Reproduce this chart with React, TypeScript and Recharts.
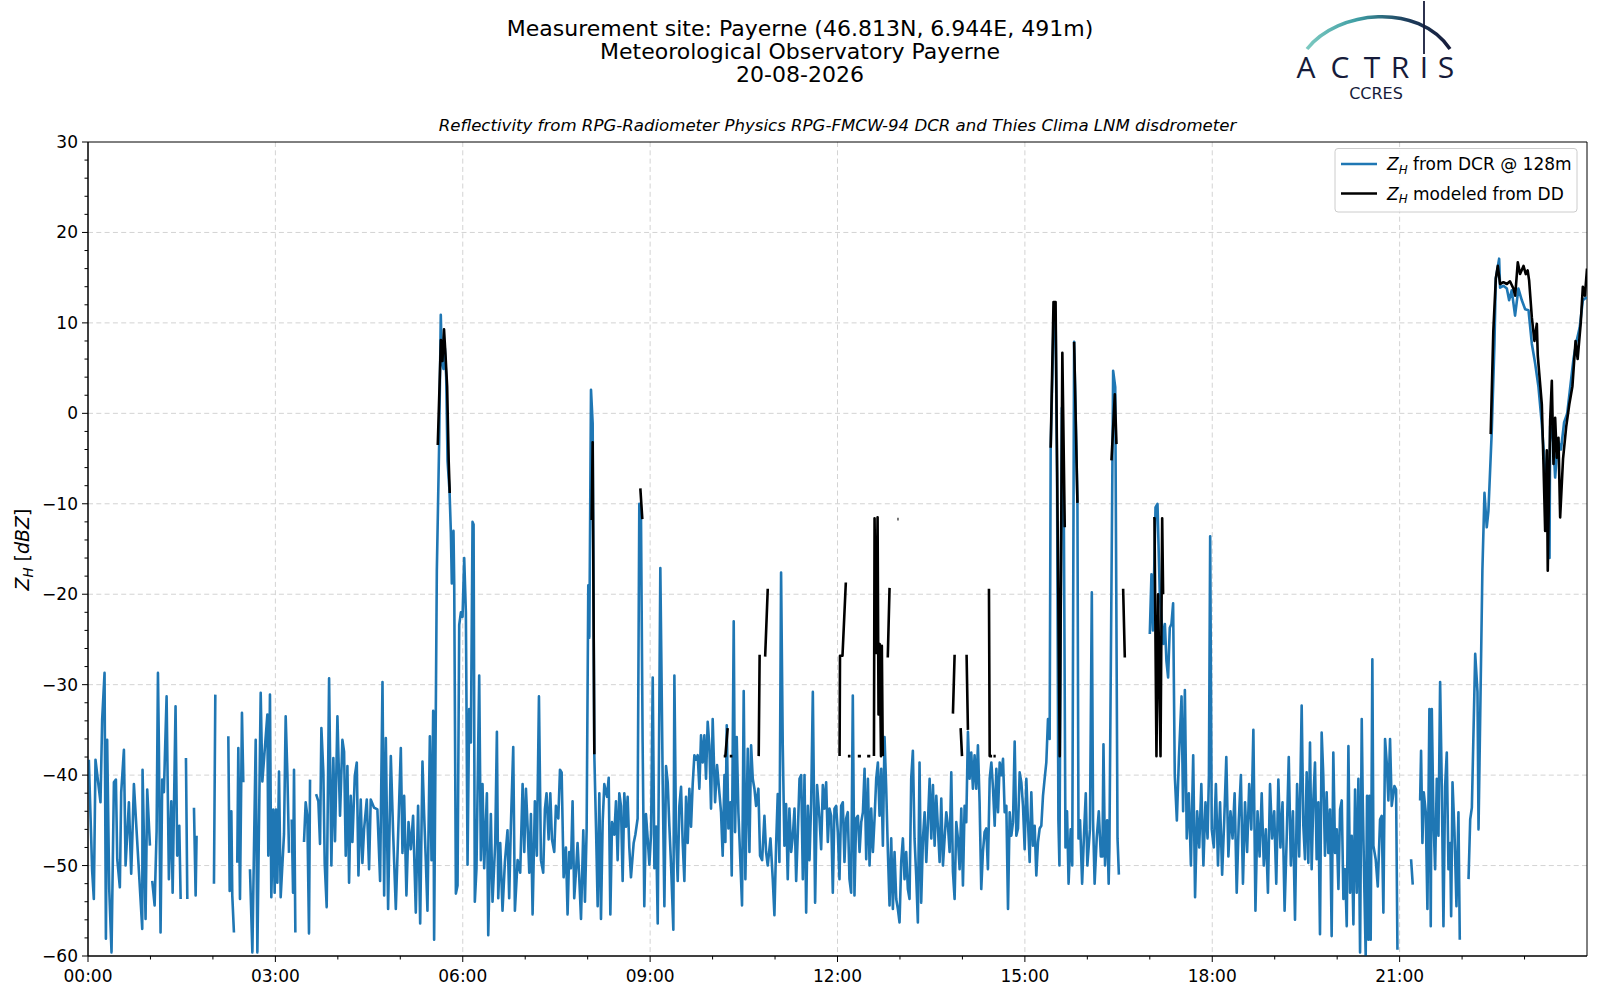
import React from 'react'
import { LineChart, Line, XAxis, YAxis, CartesianGrid, ReferenceArea } from 'recharts'

const FONT = '"DejaVu Sans", Verdana, sans-serif'
const BLUE = '#1f77b4'
const NAVY = '#161b3a'

// Z_H from the cloud radar: [minute of day, dBZ], null = no data
const BLUE_ZH: [number, number | null][] = [
  [0.8, -38.3], [4, -50.6], [5.6, -53.7], [7.2, -38.3], [12, -43], [13.6, -33.9], [15.9, -28.7], [17.2, -58.1],
  [18.4, -36.1], [20.4, -52.6], [22.6, -59.6], [24.9, -40.8], [26.8, -40.5], [28.1, -49.3], [30.6, -52.4],
  [31.9, -41.9], [34.5, -37.2], [36.1, -50], [39.3, -43], [41.5, -50.9], [42.5, -47.3], [44.1, -41], [52.1, -57],
  [52.4, -39.4], [55.3, -55.9], [56.9, -41.6], [59.5, -47.8], [60.5, null], [61.7, -51.7], [64, -54.4],
  [65.9, -46.2], [67.2, -28.7], [68.1, -36.8], [69.7, -57.4], [71.3, -40.5], [72.9, -41.9], [75.5, -31.3],
  [77.7, -51.5], [80, -42.9], [81.3, -53], [84.1, -32.4], [85.7, -48.9], [87.7, -45.6], [89, -53.7], [90.5, null],
  [94.1, -38.1], [95.4, -53.7], [97, null], [101.8, -43.6], [103.4, -53.3], [104.3, -46.7], [106, null],
  [121, -52], [122.3, -31.1], [124, null], [134.8, -35.7], [136.1, -52.8], [137.7, -44], [138.6, -53.3],
  [140.2, -57.4], [141.5, null], [143.4, -49.7], [144.4, -37], [146, -53.7], [147.9, -33.1], [149.2, -40.8],
  [151, null], [155.6, -50.4], [157.9, -59.6], [161.1, -36.1], [162.7, -59.6], [165.9, -30.9], [167.5, -40.7],
  [172.3, -33.3], [173.2, -48.9], [174.8, -31.1], [176.1, -53.5], [178, -43.8], [179.3, -53], [180.6, -43.8],
  [181.9, -51.9], [183.5, -39.6], [185.1, -53.5], [188.3, -46.5], [189.9, -33.5], [191.5, -39.7], [193.1, -48.6],
  [194.5, null], [195.7, -44.9], [197, -53], [197.9, -39.4], [199.2, -57.4], [201, null], [207.5, -47.4],
  [209.1, -43], [210.7, -44.5], [212.3, -57.5], [213.3, -40.5], [215, null], [219.1, -42.1], [221.3, -42.9],
  [222.9, -47.6], [224.2, -34.8], [226.1, -39.7], [227.4, -49.8], [229.3, -54.6], [231.6, -29.3], [233.8, -50],
  [235.7, -38.1], [237.3, -47.3], [239.6, -33.5], [242.1, -44.5], [244.4, -36.1], [246, -37.4], [247.6, -48.9],
  [249.2, -39], [250.8, -51.9], [252.4, -42.3], [254, -47.4], [256.3, -40.1], [258.2, -38.6], [259.8, -51.1],
  [262, -42.7], [263.6, -49.7], [265.2, -46], [267.8, -42.7], [270, -50.4], [271.6, -42.7], [274.8, -43.6],
  [278, -43.8], [280.6, -51.7], [282.9, -29.7], [284.5, -53.3], [286.1, -35.9], [288.3, -54.8], [290.9, -37.9],
  [293.1, -46.3], [295.7, -54.8], [297.9, -46.7], [300.5, -37], [302.1, -48.6], [303.7, -42.3], [305.9, -53.3],
  [307.9, -45.2], [310.1, -48.2], [312.3, -44.5], [314.9, -55.2], [317.1, -43.4], [319.1, -56.4],
  [321.3, -38.5], [322.9, -44.3], [324.5, -49.4], [326.1, -55], [328.4, -35.7], [330, -49.4], [331.6, -32.9],
  [332.5, -58.2], [335.1, -17.4], [337.3, -3.5], [338.9, 10.9], [339.9, 5.8], [341.5, 4.9], [342.8, 7.2],
  [344.1, 4], [345.4, -5.3], [347.3, -8.6], [348.6, -13.2], [349.5, -18.8], [351.1, -13], [351.8, -18.8],
  [353.4, -53.1], [355, -52.2], [356.6, -23.4], [358.2, -22], [359.8, -22.5], [361.4, -16], [363, -22],
  [364.6, -49.9], [366.2, -32.7], [367.8, -36.4], [369.4, -12], [370.4, -12.3], [371.6, -54], [373.2, -50.3],
  [375.8, -29], [377.4, -49.4], [379, -41], [380.6, -50.3], [383.2, -42], [384.5, -57.7], [387, -44.3],
  [388.6, -54], [391.2, -47.5], [392.8, -35.2], [394.1, -53.6], [396, -47.5], [398.2, -55], [400.5, -49.6],
  [403, -46.1], [404.6, -53.6], [406.2, -45.7], [408.5, -36.9], [410.1, -55], [412.7, -49.4], [415.2, -50.8],
  [417.5, -41], [419.1, -48.5], [420.7, -41.5], [422.3, -45.7], [423.9, -50.8], [425.5, -44.3], [427.1, -55.4],
  [429.3, -42.9], [431.2, -48.9], [433.2, -31.3], [435.1, -49.4], [437.3, -50.8], [438.9, -43.8], [440.5, -42],
  [442.5, -47.1], [444.1, -42], [445.7, -47.1], [447.9, -48.5], [449.5, -43.4], [451.8, -44.8], [453.4, -39.4],
  [455, -39.7], [456.9, -51.3], [459.1, -48], [460.7, -55.4], [462.3, -48.5], [463.9, -50.3], [465.5, -42.9],
  [467.1, -53.6], [468.7, -50.8], [470.3, -47.5], [471.9, -51.3], [473.6, -55.9], [475.8, -46.1], [477.4, -54],
  [479, -46.1], [480.6, -19], [481.6, -24.8], [483.2, 2.6], [484.8, -1.1], [486.4, -37.8], [488, -45.7],
  [489.6, -54.5], [491.2, -42], [492.8, -55.9], [494.4, -45.2], [496, -41], [498.6, -42.4], [500.2, -40.3],
  [501.8, -55.4], [503.4, -45.2], [505.6, -46.6], [507.2, -42.9], [508.8, -49.4], [510.4, -42], [512, -43.4],
  [513.6, -51.7], [515.2, -42], [516.8, -45.7], [518.4, -42.4], [520, -48], [521.6, -51.3], [524.2, -47.5],
  [525.8, -46.6], [528, -44.8], [529.6, -10], [531.2, -10.9], [532.8, -36.4], [534.4, -54.5], [536, -44.3],
  [537.7, -47.1], [539.3, -49.9], [540.9, -46.5], [542.5, -29.2], [544.1, -50.3], [545.7, -45.7], [547.3, -56.4],
  [549.8, -17.1], [552.1, -41], [553.7, -54.5], [555.3, -39], [556.9, -40.8], [558.5, -45.7], [560.1, -49.9],
  [562.3, -57.1], [563.3, -29], [564.9, -46.6], [566.5, -51.7], [568.1, -43.4], [569.7, -41.3], [571.3, -47.5],
  [572.9, -51.7], [574.5, -42.4], [576.1, -47.5], [577.7, -41.5], [579.3, -45.7], [580.9, -41], [582.5, -37.8],
  [584.1, -38.3], [585.7, -37.8], [587.3, -41.5],
  [588.9, -35.6], [590.5, -38.6], [592.1, -35.6], [593.7, -40.4], [595.3, -34.1], [596.9, -36.7], [598.5, -43.7],
  [600.1, -33.8], [602.4, -43], [604.3, -38.9], [606.5, -41.9], [608.1, -44.1], [609.7, -48.9], [611.4, -40],
  [612.3, -47.4], [613.6, -34.5], [615.2, -45.9], [617.1, -43], [618.4, -51.1], [620.3, -23], [621.6, -46.3],
  [623.2, -35.8], [624.8, -44.1], [626.7, -49.6], [628.3, -54.4], [629.9, -30.7], [631.5, -51.5], [633.8, -37.1],
  [635.4, -48.5], [637, -36.7], [638.6, -40.4], [640.2, -41.5], [641.8, -43.4], [644, -41.5], [645.6, -48.9],
  [647.6, -49.4], [649.8, -44.5], [651.4, -48.5], [653, -50], [655.6, -47], [657.8, -51.5], [659.4, -55.5],
  [661, -47.8], [662.6, -42.1], [664.2, -49.6], [665.8, -17.6], [667.4, -36.7], [669, -47.8], [670.6, -43.2],
  [672.2, -51.5], [673.8, -43.7], [675.5, -48.5], [677.1, -46.7], [678.7, -43.7], [680.3, -51.7], [681.9, -46.3],
  [683.5, -40.4], [685.1, -40], [686.7, -51.5], [688.3, -40], [689.9, -55.2], [691.5, -43.4], [693.1, -49.4],
  [694.7, -43], [696.3, -30.8], [698.5, -54.1], [700.4, -41.1], [702.7, -44.8], [704.3, -48.2], [705.9, -41.1],
  [707.5, -43.7], [709.1, -40.8], [710.7, -47.4], [712.3, -43.7], [713.9, -44.5], [715.5, -53], [717.1, -43.7],
  [718.7, -43.4], [720.3, -46.3], [721.9, -51.5], [723.5, -43.4], [725.1, -43], [726.7, -49.6], [728.3, -44.8],
  [729.9, -44.1], [731.5, -51.5], [733.1, -53], [734.7, -31.2], [736.3, -53.3], [737.9, -44.8], [739.6, -44.5],
  [741.2, -48.5], [742.8, -45.2], [744.4, -44.1], [746, -39.3], [747.6, -49.3], [749.2, -40.4], [750.8, -50],
  [752.4, -43.7], [754, -48.5], [755.6, -44.8], [757.2, -40.4], [758.8, -38.6], [760.4, -44.5], [762, -39.3],
  [763.6, -47.8], [765.2, -35.8], [766.8, -41.5], [768.4, -48.5], [770, -54.4], [771.6, -47], [773.2, -54.8],
  [774.8, -48.5], [776.4, -53.7], [778, -54.8], [779.6, -56.3], [781.2, -49.6], [782.8, -47], [784.4, -51.5],
  [786, -48.5], [787.6, -52.6], [789.2, -53.7], [790.8, -40.4], [792.4, -37.3], [794, -47], [795.6, -51.1],
  [797.2, -56.3], [798.8, -38.6], [800.4, -54.1], [802.1, -47], [803.7, -44.1], [805.3, -49.6], [806.9, -45.2],
  [808.5, -40.4], [810.1, -47], [811.7, -41.1], [813.3, -47.8], [814.9, -42.3], [816.5, -45.9], [818.1, -49.6],
  [819.7, -42.6], [821.3, -50], [822.9, -47], [824.5, -44.1], [826.1, -45.6], [827.7, -48.5], [829.3, -39.7],
  [830.9, -50.7], [832.5, -53.7], [834.1, -45.2], [835.7, -47], [837.3, -50.4], [838.9, -43.7], [840.5, -52.2],
  [842.1, -43.4], [843.7, -45.2], [845.3, -35.2], [846.9, -40.4], [848.5, -37.5], [850.1, -41.5], [851.7, -37.8],
  [853.3, -41.5], [854.9, -36.7], [856.5, -43], [858.1, -52.6], [859.7, -48.5], [861.3, -46.3], [862.9, -45.9],
  [864.5, -50.4], [866.2, -40.4], [867.8, -38.6], [869.4, -41.5], [871, -45.6], [872.6, -39.3], [874.2, -44.1],
  [875.8, -38.6], [877.4, -40], [879, -38.2], [880.6, -44.1], [882.2, -43.4], [883.8, -54.8], [885.4, -44.1],
  [887, -46.7], [888.6, -45.2], [890.2, -36.3], [891.8, -46.7], [893.4, -45.9], [895, -39.7], [896.6, -40.8],
  [898.2, -43.4], [899.8, -48.2], [901.4, -40.4], [903, -45.2], [904.6, -49.6], [906.2, -41.9], [907.8, -47.8],
  [909.4, -45.6], [911, -51.1], [912.6, -47.4], [914.2, -45.9], [915.8, -45.6], [917.4, -42.3], [919, -40.4],
  [920.6, -38.6], [922.2, -33.8], [923.8, -36], [924.8, -3.8], [927.5, 9.5], [929.5, 10.5], [930.9, -6.5],
  [932.2, -45], [933.2, -50], [935.5, 0.6], [937.5, -12.6], [939, -48], [940.5, -44], [942, -52], [944, -46],
  [945.5, -50], [947.3, 7.9], [950.5, -9.9], [951.5, -47], [953, -45], [955, -52], [957, -46], [958.5, -42],
  [960, -50], [962.5, -46], [964.3, -19.8], [965.5, -45], [967, -52], [969, -47], [971, -44], [973, -49],
  [974.5, -49], [975.5, -36.6], [977, -50], [979, -45], [980.5, -52], [981.2, -48], [984.8, 4.7], [986.8, 2.9],
  [989, -47], [990.3, -51], [991, null],
  [1020, -24.4], [1021.6, -17.8], [1023, -24], [1025.5, -10.4], [1027.4, -10], [1029.6, -20], [1033, -25.5],
  [1034.5, -23.3], [1036, -27.4], [1037.6, -29.2], [1039.2, -23.7], [1040.8, -23.3], [1042.4, -21], [1044, -40],
  [1046, -45], [1048, -38], [1050.5, -31.3], [1052, -44], [1053.7, -30.6], [1055.5, -47], [1057.5, -42],
  [1059.5, -50], [1061.7, -37.8], [1063.5, -53.5], [1065.5, -44], [1067.5, -48], [1069.5, -41], [1071.5, -50],
  [1073.5, -43], [1075.5, -47], [1076.8, -40], [1078, -13.6], [1079.5, -46], [1081.5, -48], [1083.5, -41],
  [1085.5, -50], [1087.5, -43], [1089.5, -51], [1091.5, -45], [1093.5, -38], [1095.5, -49], [1097.5, -44],
  [1099.5, -47], [1101.5, -42], [1103.5, -53], [1105.5, -45], [1107.5, -40], [1109.5, -52], [1111.5, -43],
  [1113.5, -48.5], [1115.5, -41], [1117.5, -46], [1119.5, -35], [1121.5, -55], [1123.5, -44], [1125.5, -49],
  [1127.5, -42], [1129.5, -50], [1131.5, -46], [1133.5, -53], [1135.5, -41], [1137.5, -47], [1139.5, -44],
  [1141.5, -52], [1143.5, -40.5], [1145.5, -48], [1147.5, -43], [1149.5, -55], [1151.5, -47], [1153.5, -38],
  [1155.5, -50], [1157.5, -44], [1159.5, -56], [1161.5, -41], [1163.5, -49],
  [1165.9, -32.3], [1167.5, -45.6], [1169.1, -49.3], [1170.7, -39.7], [1172.3, -49.7], [1173.9, -36.4],
  [1175.5, -50.4], [1177.1, -42.7], [1178.7, -38.6], [1180.3, -49.3], [1181.9, -43], [1183.5, -57.6],
  [1185.1, -35.3], [1186.7, -40.1], [1188.3, -48.9], [1189.9, -41.9], [1191.5, -48.6], [1193.1, -43.8],
  [1194.7, -57.8], [1196.3, -37.5], [1198, -48.6], [1199.6, -46], [1201.2, -52.6], [1202.8, -43.8],
  [1204.4, -42.8], [1206, -53.7], [1207.6, -50.4], [1209.2, -56.7], [1210.8, -36.8], [1212.4, -53],
  [1214, -46.7], [1215.6, -56.5], [1217.2, -41.6], [1218.8, -53], [1220.4, -40.4], [1222, -59.6], [1223.6, -33.8],
  [1224.6, -43], [1226.2, -53], [1227.4, -60], [1228.7, -42.3], [1230, -58.2], [1231, -42.3], [1232.2, -58.2],
  [1233.8, -27.2], [1234.8, -47.8], [1237, -49.3], [1239, -52.3], [1241.2, -44.9], [1242.8, -44.5],
  [1244.4, -55.2], [1246, -36], [1247.6, -38.6], [1249.2, -42.8], [1250.8, -36], [1252.4, -43.4], [1255, -41.2],
  [1256.6, -41.6], [1257.9, -59.3], [1259, null], [1271, -49.3], [1272.6, -52.1], [1274, null],
  [1279.7, -42.8], [1280.6, -37.3], [1281.9, -47.5], [1283.2, -41.9], [1285.1, -44.1], [1286.7, -54.8],
  [1288.6, -32.7], [1289.9, -56.7], [1290.9, -32.7], [1292.5, -44.9], [1294.1, -50.4], [1295.7, -40.4],
  [1297.3, -46.7], [1298.9, -29.7], [1300.5, -41.2], [1302.1, -56.7], [1303.7, -41.2], [1305.3, -37.5],
  [1306.9, -50.4], [1308.5, -47.5], [1309.5, -55.6], [1310.8, -40.8], [1312.7, -46.3], [1314.6, -54.5],
  [1316.5, -44.1], [1317.8, -58.2], [1319, null], [1326.2, -51.5], [1327.8, -44.9], [1329.4, -43.6],
  [1332.6, -26.6], [1334.8, -30.8], [1335.8, -46], [1339.5, -17.4], [1341.5, -8.8], [1343.7, -12.6],
  [1345.3, -10.8], [1348.5, -2], [1351.1, 7.7], [1352.4, 14.9], [1355.6, 17.1], [1356.5, 13.9], [1359.7, 14.1],
  [1363, 13.8], [1365.2, 12.5], [1367.7, 13.6], [1370.9, 10.8], [1374.1, 13.8], [1377.4, 12.5], [1380.6, 11.5],
  [1383.8, 11.4], [1387, 7.7], [1390.2, 5.5], [1393.4, 2.9], [1396.6, -1.2], [1399.8, -6.4], [1403, -13],
  [1404, -16], [1404.6, -1.4], [1406.2, -1.9], [1407.8, -3.4], [1409.4, -7.1], [1412, -3], [1415, -4],
  [1418, -1], [1421, 0], [1424, 3], [1427, 6], [1430, 8], [1433, 9.5], [1436, 12.5], [1438, 12.7], [1440, 12.8],
]

// Z_H modelled from the disdrometer: [minute of day, dBZ], null = break
const BLACK_ZH: [number, number | null][] = [
  [336, -3.5], [339, 8.1], [340.5, 5.8], [342, 9.3], [343.5, 6.3], [345, 3], [346.5, -5.3], [347.5, -8.8], [348, null],
  [483.8, -11.8], [484.8, -3.2], [486.4, -37.7], [487, null],
  [530.6, -8.3], [532.5, -11.7], [533, null],
  [610.7, -37.9], [612.3, -37.9], [614.5, -34.8], [615, null], [616.5, -37.9], [619, -37.9], [619.5, null],
  [644.3, -37.9], [645.2, -26.7], [646, null], [650.5, -26.9], [653, -19.4], [653.5, null],
  [722, -37.9], [722.4, -26.8], [724.8, -26.8], [728, -18.7], [728.5, null],
  [730, -37.9], [732.5, -37.9], [733, null], [739.5, -37.9], [742.5, -37.9], [743, null],
  [748.5, -37.9], [751.5, -37.9], [752, null],
  [755, -37.9], [755.6, -11.6], [757, -26.5], [758.5, -11.5], [759.4, -33.3], [760.5, -25.5], [761.8, -37.9],
  [762.6, -25.7], [763.5, -37.9], [764, null],
  [768.3, -27], [770, -19.3], [770.5, null],
  [777.6, -11.7], [778.6, -11.7], [779, null],
  [830.9, -33.2], [832.5, -26.7], [833, null],
  [838.3, -34.8], [839.6, -37.9], [840, null],
  [844, -26.7], [845.3, -35], [846, null],
  [865.5, -19.4], [866.2, -37.9], [868.5, -37.9], [869, null], [869.8, -37.9], [872, -37.9], [872.5, null],
  [924.8, -3.8], [927.5, 12.3], [929.5, 12.3], [931, -6.5], [933.5, -37.9], [936, 6.7], [938.3, -12.6], [939, null],
  [947.3, 7.9], [950.5, -9.9], [951, null],
  [983.2, -5.2], [986.4, 2.1], [988, -3.4], [988.5, null],
  [994.4, -19.4], [996, -27], [996.5, null],
  [1023.2, -11.6], [1024.5, -11.6], [1026.4, -37.9], [1028, -20], [1030.3, -37.9], [1031.9, -11.6], [1032.8, -20],
  [1033.5, null],
  [1347.5, -2.3], [1350, 9.1], [1352.4, 14.9], [1354.3, 16.3], [1356.5, 14.3], [1359.7, 14.5], [1363, 14.3],
  [1366, 14.6], [1369.3, 13.8], [1371, 13], [1373.5, 16.7], [1375.7, 15.4], [1379, 16.3], [1381.2, 15.4],
  [1383, 15.8], [1384.4, 14.7], [1387, 10.6], [1389.5, 8], [1391.8, 9.9], [1392.7, 6.4], [1395, 3.2],
  [1396.6, 1], [1398.2, -5.6], [1399.8, -13], [1401.4, -4.1], [1402.3, -17.4], [1404.6, -0.8], [1406.2, 3.6],
  [1407.8, -5.6], [1409.4, -0.5], [1411, -4.9], [1412.6, -2.7], [1414.2, -11.5], [1417, -5], [1420, -1.5],
  [1423, 1], [1426, 3], [1429, 8], [1431, 6], [1434, 10], [1436, 14], [1438, 13], [1440, 16],
]

const X_TICKS = [
  0, 60, 120, 180, 240, 300, 360, 420, 480, 540, 600, 660,
  720, 780, 840, 900, 960, 1020, 1080, 1140, 1200, 1260, 1320, 1380,
]
const X_GRID = [180, 360, 540, 720, 900, 1080, 1260]
const Y_TICKS = [
  -60, -58, -56, -54, -52, -50, -48, -46, -44, -42, -40, -38, -36, -34, -32, -30,
  -28, -26, -24, -22, -20, -18, -16, -14, -12, -10, -8, -6, -4, -2, 0,
  2, 4, 6, 8, 10, 12, 14, 16, 18, 20, 22, 24, 26, 28, 30,
]
const Y_GRID = [-50, -40, -30, -20, -10, 0, 10, 20]
const LOGO_LETTERS = ['A', 'C', 'T', 'R', 'I', 'S']

const blueData = BLUE_ZH.map(([t, v]) => ({ t, v }))
const blackData = BLACK_ZH.map(([t, v]) => ({ t, v }))

const hhmm = (m: number) => `${String(Math.floor(m / 60)).padStart(2, '0')}:00`
const minus = (v: number) => (v < 0 ? `\u2212${-v}` : `${v}`)

function XTick({ x, y, payload }: any) {
  const major = payload.value % 180 === 0
  return (
    <g>
      <line x1={x} x2={x} y1={y} y2={y + (major ? 6 : 3.5)} stroke="#000" strokeWidth={1} />
      {major && (
        <text x={x} y={y + 25.5} textAnchor="middle" fontSize={17} fontFamily={FONT} fill="#000">
          {hhmm(payload.value)}
        </text>
      )}
    </g>
  )
}

function YTick({ x, y, payload }: any) {
  const major = payload.value % 10 === 0
  return (
    <g>
      <line x1={x - (major ? 6 : 3.5)} x2={x} y1={y} y2={y} stroke="#000" strokeWidth={1} />
      {major && (
        <text x={x - 10} y={y + 6} textAnchor="end" fontSize={17} fontFamily={FONT} fill="#000">
          {minus(payload.value)}
        </text>
      )}
    </g>
  )
}

// "Z_H" written the matplotlib mathtext way
function ZH({ size }: { size: number }) {
  return (
    <>
      <tspan fontStyle="italic">Z</tspan>
      <tspan fontStyle="italic" fontSize={size * 0.7} dy={size * 0.22}>H</tspan>
      <tspan dy={-size * 0.22}> </tspan>
    </>
  )
}

export default function App() {
  return (
    <div style={{ position: 'absolute', left: 0, top: 0, width: 1600, height: 1000, background: '#fff' }}>
      <LineChart width={1600} height={1000} margin={{ top: 142, right: 13, bottom: 0, left: 0 }}>
        <CartesianGrid
          verticalValues={X_GRID}
          horizontalValues={Y_GRID}
          stroke="#d3d3d3"
          strokeDasharray="5 3.3"
        />
        <XAxis
          dataKey="t"
          type="number"
          domain={[0, 1440]}
          ticks={X_TICKS}
          interval={0}
          tickSize={0}
          tickMargin={0}
          tickLine={false}
          tick={XTick}
          axisLine={{ stroke: '#000' }}
          height={44}
          allowDataOverflow
        />
        <YAxis
          type="number"
          domain={[-60, 30]}
          ticks={Y_TICKS}
          interval={0}
          tickSize={0}
          tickMargin={0}
          tickLine={false}
          tick={YTick}
          axisLine={{ stroke: '#000' }}
          width={88}
          allowDataOverflow
        />
        <Line
          data={blueData}
          dataKey="v"
          type="linear"
          stroke={BLUE}
          strokeWidth={2.6}
          strokeLinejoin="round"
          dot={false}
          connectNulls={false}
          isAnimationActive={false}
        />
        <Line
          data={blackData}
          dataKey="v"
          type="linear"
          stroke="#000"
          strokeWidth={2.6}
          strokeLinejoin="round"
          dot={false}
          connectNulls={false}
          isAnimationActive={false}
        />
        <ReferenceArea x1={0} x2={1440} y1={-60} y2={30} fill="none" stroke="#000" strokeWidth={1} ifOverflow="visible" />
      </LineChart>

      <svg
        width={1600}
        height={1000}
        style={{ position: 'absolute', left: 0, top: 0, pointerEvents: 'none' }}
        fontFamily={FONT}
      >
        <defs>
          <linearGradient id="arcGrad" x1="0" y1="0" x2="1" y2="0">
            <stop offset="0%" stopColor="#7cc9c0" />
            <stop offset="35%" stopColor="#3f9ea4" />
            <stop offset="70%" stopColor="#1d3d5c" />
            <stop offset="100%" stopColor={NAVY} />
          </linearGradient>
        </defs>

        <text x={800} y={35.5} textAnchor="middle" fontSize={22}>Measurement site: Payerne (46.813N, 6.944E, 491m)</text>
        <text x={800} y={58.5} textAnchor="middle" fontSize={22}>Meteorological Observatory Payerne</text>
        <text x={800} y={81.5} textAnchor="middle" fontSize={22}>20-08-2026</text>
        <text x={837.5} y={131} textAnchor="middle" fontSize={16.6} fontStyle="italic">
          Reflectivity from RPG-Radiometer Physics RPG-FMCW-94 DCR and Thies Clima LNM disdrometer
        </text>

        {/* ACTRIS / CCRES logo */}
        <path d="M1307,49 C1338,10 1418,2 1450,49" fill="none" stroke="url(#arcGrad)" strokeWidth={3.5} />
        <line x1={1424} x2={1424} y1={1} y2={54} stroke={NAVY} strokeWidth={1.8} />
        {LOGO_LETTERS.map((ch, i) => (
          <text
            key={ch}
            x={[1306, 1340, 1372, 1400, 1424, 1446][i]}
            y={78}
            textAnchor="middle"
            fontSize={30}
            fontWeight={500}
            fontFamily="'Open Sans', Lato, sans-serif"
            fill={NAVY}
          >
            {ch}
          </text>
        ))}
        <text x={1376} y={98.5} textAnchor="middle" fontSize={16} fill={NAVY}>CCRES</text>

        {/* y label */}
        <text x={29} y={549.5} textAnchor="middle" fontSize={19} transform="rotate(-90 29 549.5)">
          <ZH size={19} />
          [<tspan fontStyle="italic">dBZ</tspan>]
        </text>

        {/* legend */}
        <rect x={1335} y={148.5} width={242} height={63.5} rx={3} fill="#fff" fillOpacity={0.8} stroke="#cccccc" />
        <line x1={1341} x2={1377} y1={164} y2={164} stroke={BLUE} strokeWidth={2.6} />
        <text x={1387} y={170} fontSize={17}>
          <ZH size={17} />
          from DCR @ 128m
        </text>
        <line x1={1341} x2={1377} y1={193.5} y2={193.5} stroke="#000" strokeWidth={2.6} />
        <text x={1387} y={199.5} fontSize={17}>
          <ZH size={17} />
          modeled from DD
        </text>
      </svg>
    </div>
  )
}
